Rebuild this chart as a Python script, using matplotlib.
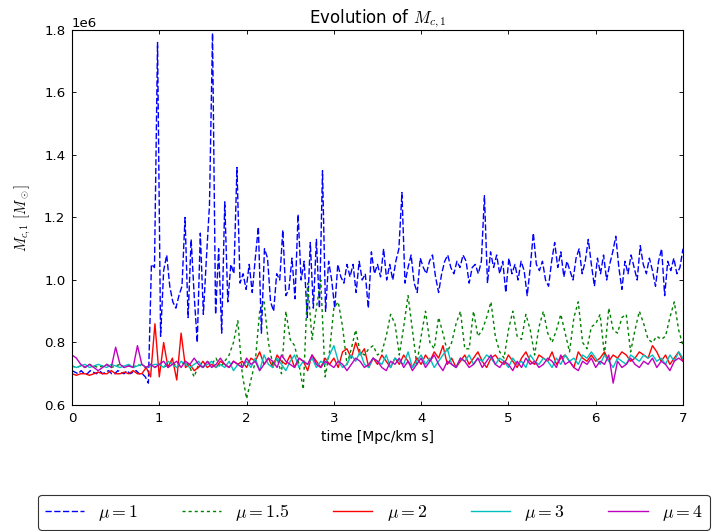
import numpy as np
import matplotlib
matplotlib.use("Agg")
import matplotlib.pyplot as plt

plt.rcParams['mathtext.fontset'] = 'cm'
plt.rcParams['font.family'] = ['DejaVu Sans']

# time axes (Mpc/km s)
t_mu1 = np.linspace(0, 7, 201)
t_other = np.linspace(0, 7, 141)

# M_c,1 values in units of 1e6 M_sun
m_mu1 = [
    0.71, 0.705, 0.70, 0.71, 0.70, 0.70, 0.71, 0.705, 0.70, 0.71, 0.70, 0.705, 0.71, 0.70, 0.70,
    0.71, 0.705, 0.70, 0.71, 0.70, 0.705, 0.71, 0.70, 0.70, 0.69,
    0.67, 1.05, 1.04, 1.76, 0.82,
    1.03, 1.08, 0.98, 0.93, 0.91, 0.95, 0.98, 1.20, 0.88, 1.13,
    0.95, 0.80, 1.15, 0.89, 1.07, 1.24, 1.79, 0.89, 1.10, 0.83,
    1.25, 0.93, 1.05, 1.02, 1.36, 0.99, 1.02, 0.97, 1.05, 0.96,
    1.07, 1.17, 0.83, 1.10, 1.07, 0.93, 0.90, 1.02, 1.00, 1.16,
    0.95, 0.97, 1.07, 0.94, 1.21, 1.00, 1.06, 0.88, 1.12, 0.91,
    1.13, 0.91, 1.35, 0.90, 1.06, 1.00, 0.91, 1.05, 1.01, 0.99,
    1.05, 1.01, 1.05, 0.96, 1.06, 1.00, 1.02, 0.91, 1.09, 1.02,
    1.05, 1.01, 1.10, 1.00, 1.05, 1.00, 1.06, 1.10, 1.28, 0.99,
    1.04, 1.08, 0.99, 0.96, 1.07, 1.04, 1.02, 1.06, 1.08, 1.01,
    0.96, 1.02, 1.06, 1.08, 1.04, 1.02, 1.06, 1.04, 1.08, 1.06,
    0.99, 1.04, 1.05, 1.02, 1.06, 1.27, 0.99, 1.09, 1.04, 1.08,
    1.02, 1.06, 0.96, 1.07, 1.02, 1.05, 1.00, 1.06, 1.03, 0.95,
    1.04, 1.15, 1.05, 1.03, 1.06, 1.00, 0.98, 1.06, 1.12, 1.04,
    1.09, 1.01, 1.06, 1.03, 1.00, 1.07, 1.10, 1.02, 1.06, 1.13,
    1.05, 0.98, 1.07, 1.02, 1.08, 1.00, 1.05, 1.09, 1.14, 1.04,
    0.97, 1.06, 1.02, 1.08, 1.04, 1.00, 1.11, 1.05, 1.02, 1.07,
    1.03, 0.98, 1.06, 1.10, 0.95, 1.06, 1.03, 1.07, 1.02, 1.04,
    1.10,
]

m_mu15 = [
    0.725, 0.72, 0.725, 0.72, 0.73, 0.725, 0.72, 0.725, 0.73, 0.72, 0.725, 0.73, 0.72, 0.725, 0.72, 0.73, 0.725, 0.72, 0.73, 0.72,
    0.73, 0.72, 0.73, 0.74, 0.72, 0.73, 0.74, 0.72, 0.69, 0.73, 0.72, 0.74, 0.73, 0.75, 0.72, 0.74, 0.76, 0.80, 0.87, 0.70,
    0.62, 0.68, 0.74, 0.90, 0.93, 0.80, 0.73, 0.75, 0.70, 0.90, 0.81, 0.79, 0.73, 0.65, 0.99, 0.81, 0.91, 1.00, 0.69, 0.77,
    0.91, 0.93, 0.85, 0.73, 0.78, 0.84, 0.77, 0.76, 0.78, 0.79, 0.76, 0.77, 0.82, 0.89, 0.86, 0.76, 0.85, 0.95, 0.84, 0.73,
    0.82, 0.90, 0.80, 0.78, 0.88, 0.83, 0.77, 0.80, 0.86, 0.90, 0.78, 0.78, 0.90, 0.82, 0.84, 0.88, 0.93, 0.82, 0.77, 0.75,
    0.84, 0.90, 0.82, 0.81, 0.89, 0.84, 0.76, 0.85, 0.90, 0.83, 0.80, 0.84, 0.89, 0.83, 0.77, 0.88, 0.93, 0.80, 0.78, 0.85,
    0.86, 0.89, 0.76, 0.91, 0.84, 0.83, 0.88, 0.89, 0.77, 0.84, 0.90, 0.86, 0.81, 0.80, 0.82, 0.81, 0.82, 0.88, 0.93, 0.84,
    0.79,
]

m_mu2 = [
    0.70, 0.695, 0.70, 0.70, 0.695, 0.70, 0.705, 0.70, 0.70, 0.71, 0.70, 0.70, 0.705, 0.70, 0.71, 0.70, 0.70, 0.72, 0.69, 0.86,
    0.69, 0.80, 0.72, 0.75, 0.68, 0.83, 0.72, 0.73, 0.71, 0.72, 0.74, 0.72, 0.73, 0.72, 0.74, 0.73, 0.72, 0.74, 0.73, 0.74,
    0.72, 0.75, 0.74, 0.77, 0.73, 0.75, 0.72, 0.76, 0.74, 0.73, 0.76, 0.72, 0.75, 0.74, 0.71, 0.76, 0.74, 0.72, 0.75, 0.73,
    0.75, 0.72, 0.77, 0.78, 0.75, 0.80, 0.76, 0.78, 0.72, 0.75, 0.73, 0.76, 0.74, 0.72, 0.75, 0.73, 0.76, 0.74, 0.72, 0.75,
    0.73, 0.76, 0.74, 0.77, 0.75, 0.79, 0.73, 0.75, 0.72, 0.74, 0.76, 0.73, 0.75, 0.77, 0.74, 0.72, 0.75, 0.76, 0.74, 0.73,
    0.76, 0.74, 0.72, 0.75, 0.77, 0.74, 0.73, 0.76, 0.75, 0.74, 0.77, 0.73, 0.75, 0.76, 0.74, 0.72, 0.77, 0.75, 0.74, 0.76,
    0.74, 0.75, 0.77, 0.74, 0.76, 0.75, 0.77, 0.76, 0.74, 0.75, 0.77, 0.76, 0.75, 0.79, 0.77, 0.74, 0.76, 0.73, 0.75, 0.77,
    0.74,
]

m_mu3 = [
    0.725, 0.72, 0.725, 0.73, 0.72, 0.725, 0.73, 0.725, 0.72, 0.73, 0.725, 0.72, 0.725, 0.73, 0.72, 0.725, 0.73, 0.72, 0.725, 0.73,
    0.73, 0.72, 0.74, 0.73, 0.72, 0.74, 0.73, 0.72, 0.73, 0.74, 0.72, 0.73, 0.74, 0.72, 0.73, 0.72, 0.74, 0.71, 0.73, 0.72,
    0.74, 0.72, 0.75, 0.71, 0.76, 0.73, 0.72, 0.75, 0.73, 0.71, 0.74, 0.76, 0.72, 0.74, 0.73, 0.75, 0.72, 0.74, 0.73, 0.76,
    0.79, 0.74, 0.72, 0.73, 0.76, 0.74, 0.77, 0.73, 0.72, 0.75, 0.74, 0.73, 0.76, 0.72, 0.75, 0.74, 0.73, 0.77, 0.72, 0.74,
    0.76, 0.73, 0.75, 0.72, 0.74, 0.76, 0.78, 0.73, 0.72, 0.75, 0.74, 0.76, 0.73, 0.75, 0.74, 0.76, 0.75, 0.73, 0.75, 0.74,
    0.72, 0.75, 0.73, 0.74, 0.72, 0.76, 0.74, 0.73, 0.75, 0.74, 0.72, 0.75, 0.73, 0.76, 0.74, 0.75, 0.73, 0.76, 0.75, 0.77,
    0.75, 0.73, 0.76, 0.74, 0.72, 0.75, 0.74, 0.73, 0.76, 0.75, 0.74, 0.76, 0.75, 0.76, 0.74, 0.75, 0.73, 0.76, 0.74, 0.77,
    0.75,
]

m_mu4 = [
    0.76, 0.75, 0.73, 0.72, 0.73, 0.72, 0.71, 0.72, 0.73, 0.72, 0.785, 0.73, 0.72, 0.725, 0.72, 0.79, 0.73, 0.72, 0.73, 0.72,
    0.73, 0.74, 0.72, 0.73, 0.74, 0.72, 0.74, 0.73, 0.75, 0.73, 0.72, 0.74, 0.72, 0.73, 0.75, 0.73, 0.72, 0.74, 0.73, 0.72,
    0.75, 0.73, 0.74, 0.71, 0.73, 0.75, 0.74, 0.72, 0.76, 0.74, 0.73, 0.72, 0.75, 0.74, 0.73, 0.76, 0.73, 0.72, 0.74, 0.73,
    0.72, 0.74, 0.73, 0.71, 0.73, 0.75, 0.74, 0.72, 0.73, 0.75, 0.74, 0.72, 0.71, 0.74, 0.73, 0.75, 0.72, 0.74, 0.71, 0.73,
    0.75, 0.72, 0.74, 0.76, 0.73, 0.71, 0.74, 0.73, 0.72, 0.75, 0.74, 0.72, 0.73, 0.75, 0.72, 0.74, 0.76, 0.73, 0.72, 0.74,
    0.73, 0.71, 0.74, 0.72, 0.75, 0.73, 0.74, 0.72, 0.73, 0.75, 0.74, 0.72, 0.76, 0.73, 0.74, 0.72, 0.71, 0.74, 0.73, 0.75,
    0.72, 0.74, 0.73, 0.76, 0.67, 0.74, 0.72, 0.73, 0.75, 0.73, 0.72, 0.74, 0.73, 0.75, 0.72, 0.74, 0.73, 0.71, 0.74, 0.75,
    0.74,
]

labels = [r'$\mu=1$', r'$\mu=1.5$', r'$\mu=2$', r'$\mu=3$', r'$\mu=4$']
colors = ['b', 'g', 'r', 'c', 'm']
title = r'Evolution of $M_{c,1}$'
xlabel = 'time [Mpc/km s]'
ylabel = r'$M_{c,1}$ $[M_\odot]$'

fig = plt.figure(figsize=(715 / 80, 531 / 80), dpi=80)
ax = fig.add_axes([72 / 715, 1 - 405 / 531, (683 - 72) / 715, (405 - 30) / 531])

scale = 1e6
lw = 1.25
ax.plot(t_mu1, np.array(m_mu1) * scale, color=colors[0], lw=lw, dashes=(4.5, 1.8), label=labels[0])
ax.plot(t_other, np.array(m_mu15) * scale, color=colors[1], lw=lw, dashes=(2.2, 2.2), label=labels[1])
ax.plot(t_other, np.array(m_mu2) * scale, color=colors[2], lw=lw, label=labels[2])
ax.plot(t_other, np.array(m_mu3) * scale, color=colors[3], lw=lw, label=labels[3])
ax.plot(t_other, np.array(m_mu4) * scale, color=colors[4], lw=lw, label=labels[4])

ax.set_xlim(0, 7)
ax.set_ylim(0.6e6, 1.8e6)
ax.set_xticks(np.arange(0, 8, 1))
ax.set_yticks(np.arange(0.6e6, 1.81e6, 0.2e6))
ax.ticklabel_format(axis='y', style='sci', scilimits=(0, 0))
ax.tick_params(direction='in', top=True, right=True, length=4, labelsize=12, pad=6)
ax.yaxis.get_offset_text().set_fontsize(12)
for s in ax.spines.values():
    s.set_linewidth(1)

ax.set_title(title, fontsize=15)
ax.set_xlabel(xlabel, fontsize=12.5, labelpad=5)
ax.set_ylabel(ylabel, fontsize=13, labelpad=10)

leg = fig.legend(loc='lower left', bbox_to_anchor=(38 / 715, 1 - 530 / 531, 672 / 715, 40 / 531),
                 mode='expand', ncol=5, fontsize=16, handlelength=2.2, frameon=True, fancybox=True,
                 borderaxespad=0)
leg.get_frame().set_edgecolor('black')
leg.get_frame().set_linewidth(1)

fig.savefig('out.png', dpi=80)
